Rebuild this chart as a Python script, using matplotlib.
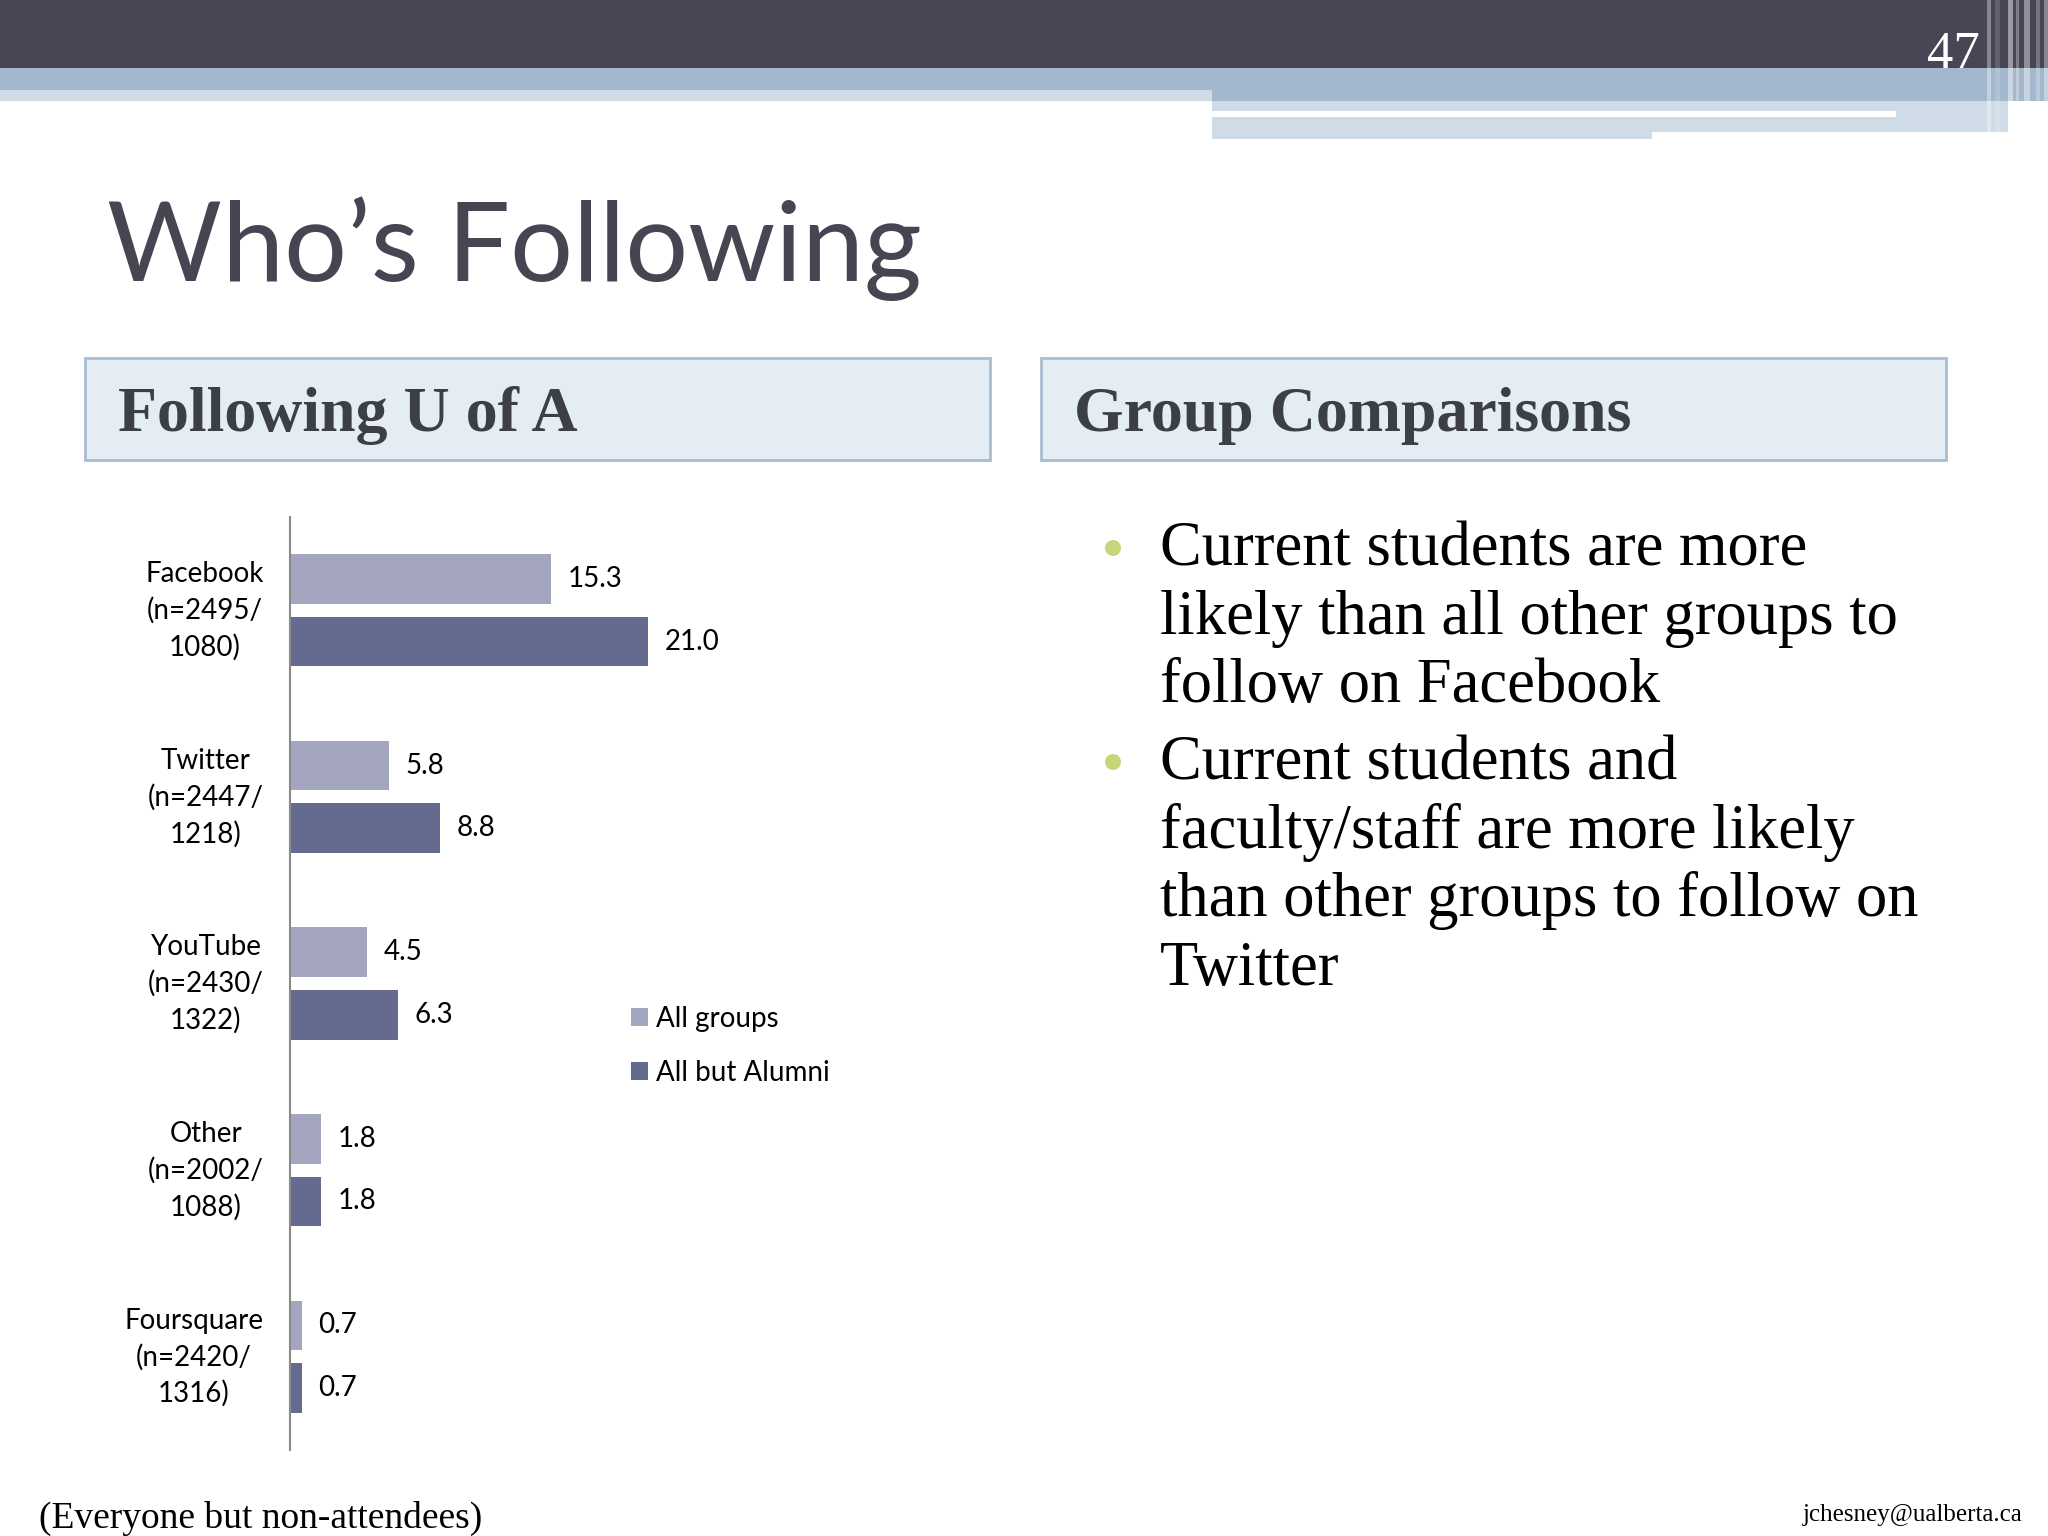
import numpy as np
import matplotlib
matplotlib.use("Agg")
import matplotlib.pyplot as plt
from matplotlib.patches import Rectangle, Circle

# chart data
categories = ["Facebook\n(n=2495/\n1080)", "Twitter\n(n=2447/\n1218)", "YouTube\n(n=2430/\n1322)",
              "Other\n(n=2002/\n1088)", "Foursquare\n(n=2420/\n1316)"]
all_groups = [15.3, 5.8, 4.5, 1.8, 0.7]
all_but_alumni = [21.0, 8.8, 6.3, 1.8, 0.7]
series_names = ["All groups", "All but Alumni"]

title = "Who\u2019s Following"
left_header = "Following U of A"
right_header = "Group Comparisons"
bullets = [
    ["Current students are more", "likely than all other groups to", "follow on Facebook"],
    ["Current students and", "faculty/staff are more likely", "than other groups to follow on", "Twitter"],
]
footnote = "(Everyone but non-attendees)"
email = "jchesney@ualberta.ca"
slide_no = "47"

light = "#a3a6be"
dark = "#646b8f"

W, H = 2048, 1536
fig = plt.figure(figsize=(W / 100, H / 100), dpi=100)
fig.patch.set_facecolor("white")

# slide background drawn in pixel coords
bg = fig.add_axes([0, 0, 1, 1])
bg.set_xlim(0, W)
bg.set_ylim(H, 0)
bg.axis("off")

def box(x0, y0, x1, y1, **kw):
    bg.add_patch(Rectangle((x0, y0), x1 - x0, y1 - y0, **kw))

# top banner
box(0, 0, W, 68, color="#484655", lw=0)
box(0, 68, 1212, 90, color="#a3b8cd", lw=0)
box(0, 90, 1212, 101, color="#cfdce7", lw=0)
box(1212, 68, 2048, 101, color="#a3b8cd", lw=0)
box(1212, 101, 1652, 139, color="#cfdce7", lw=0)
box(1652, 101, 2008, 132, color="#cfdce7", lw=0)
box(1212, 111, 1896, 117, color="white", lw=0)
# vertical stripes at the right edge
for x0, x1, a in [(1987, 1991, 0.35), (1995, 2000, 0.15), (2008, 2013, 0.45), (2016, 2019, 0.3),
                  (2024, 2030, 0.4), (2036, 2040, 0.25), (2044, 2048, 0.35)]:
    box(x0, 0, x1, 139, color="white", alpha=a, lw=0)
bg.text(1953, 68, slide_no, color="white", fontsize=38, family="Liberation Serif",
        ha="center", va="baseline")

# title
bg.text(107, 281, title, color="#464653", fontsize=80, family="Lato", va="baseline")

# header boxes
for x0, txt in [(85, left_header), (1041, right_header)]:
    box(x0, 358, x0 + 905, 460, facecolor="#e4edf4", edgecolor="#a9bdd0", lw=2)
    bg.text(x0 + 33, 431, txt, color="#3c3f44", fontsize=46, family="Liberation Serif",
            weight="bold", va="baseline")

# bullets
y = 565
for para in bullets:
    bg.add_patch(Circle((1113, y - 17), 8, color="#c8d67b", lw=0))
    for line in para:
        bg.text(1160, y, line, color="black", fontsize=45, family="Liberation Serif", va="baseline")
        y += 68.5
    y += 8.5

# footer
bg.text(39, 1528, footnote, color="black", fontsize=27, family="Liberation Serif", va="baseline")
bg.text(2023, 1521, email, color="black", fontsize=18, family="Liberation Serif",
        ha="right", va="baseline")

# bar chart
px_per_unit = 17.07
ax = fig.add_axes([290 / W, (H - 1450) / H, 700 / W, 933 / H])
ax.set_xlim(0, 700 / px_per_unit)
pos = np.arange(len(categories))
ax.set_ylim(len(categories) - 0.5, -0.5)
h = 0.266
b1 = ax.barh(pos - 0.168, all_groups, height=h, color=light, label=series_names[0])
b2 = ax.barh(pos + 0.168, all_but_alumni, height=h, color=dark, label=series_names[1])
for b in (b1, b2):
    ax.bar_label(b, labels=[f"{v:.1f}" for v in b.datavalues], padding=12,
                 fontsize=20, family="Lato", color="black")

ax.set_facecolor("none")
for s in ["top", "right", "bottom"]:
    ax.spines[s].set_visible(False)
ax.spines["left"].set_color("#8a8a8a")
ax.spines["left"].set_linewidth(1.5)
ax.set_xticks([])
ax.set_yticks([])
# category labels, right-aligned block with centred lines
for p, cat in zip(pos, categories):
    ax.annotate(cat, xy=(0, p), xytext=(-19, -0.5), textcoords="offset points",
                ha="right", va="center", multialignment="center",
                fontsize=20, family="Lato", linespacing=1.45, annotation_clip=False)

fig.legend(handles=[b1, b2], loc="upper left", bbox_to_anchor=(606 / W, 1 - 981 / H),
           frameon=False, prop={"family": "Lato", "size": 20}, handlelength=0.6,
           handleheight=0.6, handletextpad=0.3, labelspacing=1.0)

fig.savefig("out.png", dpi=100)
